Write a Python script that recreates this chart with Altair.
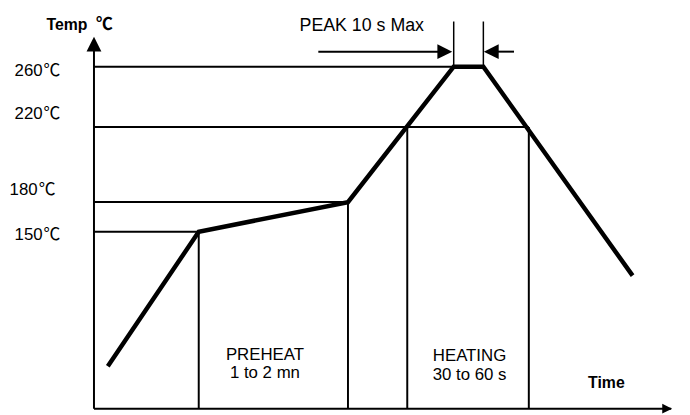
import altair as alt
import pandas as pd

# ---------------- data (schematic reflow profile) ----------------
# time axis is schematic (arbitrary units), temperatures in degrees C
profile_time = [14, 106, 257, 364, 394, 545]
profile_temp = [55, 150, 180, 260, 260, 119]

level_temp = [260, 220, 180, 150]
level_number = ["260", "220", "180", "150"]
unit = "℃"
level_end_time = [364, 440, 257, 106]

phase_time = [106, 257, 317, 440]
phase_top_temp = [150, 180, 220, 220]

peak_time = [364, 394]
peak_top_temp = 290
peak_arrow_temp = 270

phase_names = ["PREHEAT", "HEATING"]
phase_durations = ["1 to 2 mn", "30 to 60 s"]

# ---------------- layout ----------------
FONT = "Liberation Sans, Arial, Noto Sans CJK SC, DejaVu Sans"
CJK = "Noto Sans CJK SC"
FS = 17
BLACK = "#000000"
T_MIN, T_AXIS_TOP, T_MAX_X = 25, 278, 584

X_SCALE = alt.Scale(domain=[0, 595], range=[0, 595], nice=False, zero=False)
Y_SCALE = alt.Scale(domain=[25, 150, 180, 220, 260, 300],
                    range=[403, 224, 194, 118, 57, -4], nice=False, zero=False)


def X(f, **kw):
    return alt.X(f, type="quantitative", scale=X_SCALE, axis=None, **kw)


def Y(f, **kw):
    return alt.Y(f, type="quantitative", scale=Y_SCALE, axis=None, **kw)


def text_at(t, temp, txt, align="left", dx=0, dy=0, font=FONT, size=FS, weight="normal"):
    return alt.Chart(pd.DataFrame({"t": [t], "temp": [temp], "txt": [txt]})).mark_text(
        align=align, baseline="alphabetic", dx=dx, dy=dy, font=font, fontSize=size,
        fontWeight=weight, color=BLACK).encode(x=X("t"), y=Y("temp"), text="txt:N")


layers = []

# horizontal guide lines at temperature levels
lv = pd.DataFrame({"t0": [0] * 4, "t1": level_end_time, "temp": level_temp})
layers.append(alt.Chart(lv).mark_rule(color=BLACK, strokeWidth=2).encode(
    x=X("t0"), x2=alt.X2("t1"), y=Y("temp")))

# vertical phase lines
ph = pd.DataFrame({"t": phase_time, "lo": [T_MIN] * 4, "hi": phase_top_temp})
layers.append(alt.Chart(ph).mark_rule(color=BLACK, strokeWidth=2).encode(
    x=X("t"), y=Y("lo"), y2=alt.Y2("hi")))

# peak verticals
pk = pd.DataFrame({"t": peak_time, "lo": [260, 260], "hi": [peak_top_temp] * 2})
layers.append(alt.Chart(pk).mark_rule(color=BLACK, strokeWidth=1.5).encode(
    x=X("t"), y=Y("lo"), y2=alt.Y2("hi")))

# peak arrows (shafts)
pa = pd.DataFrame({"t0": [227, 402], "t1": [356, 425], "temp": [peak_arrow_temp] * 2})
layers.append(alt.Chart(pa).mark_rule(color=BLACK, strokeWidth=2).encode(
    x=X("t0"), x2=alt.X2("t1"), y=Y("temp")))
# arrow heads
heads = [
    (355, peak_arrow_temp, "M1,0L-1,-1L-1,1Z", 225),
    (402, peak_arrow_temp, "M-1,0L1,-1L1,1Z", 225),
    (0, 275, "M0,-1L1,1L-1,1Z", 225),
    (580, T_MIN, "M1,0L-1,-1L-1,1Z", 100),
]
for hx, hy, shp, sz in heads:
    layers.append(alt.Chart(pd.DataFrame({"t": [hx], "temp": [hy]})).mark_point(
        shape=shp, size=sz, filled=True, color=BLACK, opacity=1, strokeWidth=0).encode(
        x=X("t"), y=Y("temp")))

# axes drawn as rules
ax = pd.DataFrame({"t0": [0, 0], "t1": [0, T_MAX_X], "lo": [T_MIN, T_MIN], "hi": [T_AXIS_TOP, T_MIN]})
layers.append(alt.Chart(ax).mark_rule(color=BLACK, strokeWidth=2).encode(
    x=X("t0"), x2=alt.X2("t1"), y=Y("lo"), y2=alt.Y2("hi")))

# temperature profile
prof = pd.DataFrame({"t": profile_time, "temp": profile_temp, "i": range(len(profile_time))})
layers.append(alt.Chart(prof).mark_line(color=BLACK, strokeWidth=4.5, strokeJoin="miter").encode(
    x=X("t"), y=Y("temp"), order="i:O"))

# temperature labels (number + degree-Celsius sign)
label_dx = [0, 0, -5, 0]
label_dy = [9, -8, -7, 8]
for num, temp, dx, dy in zip(level_number, level_temp, label_dx, label_dy):
    layers.append(text_at(-52, temp, num, align="right", dx=dx, dy=dy))
    layers.append(text_at(-51, temp, unit, align="left", dx=dx, dy=dy, font=CJK))

# title, peak note, time label
layers.append(text_at(-48, 284.3, "Temp", weight="bold", size=16))
layers.append(text_at(2, 284.3, unit, weight="bold", font=CJK, size=17))
layers.append(text_at(208, 283.6, "PEAK 10 s Max", size=18))
layers.append(text_at(500, 39.7, "Time", weight="bold", size=16))

# phase labels
phase_center = [173, 380]
name_temp = [59.2, 58.5]
dur_temp = [46.6, 45.3]
pt = pd.DataFrame({
    "t": phase_center * 2,
    "temp": name_temp + dur_temp,
    "txt": phase_names + phase_durations,
})
layers.append(alt.Chart(pt).mark_text(
    align="center", baseline="alphabetic", font=FONT, fontSize=FS, color=BLACK).encode(
    x=X("t"), y=Y("temp"), text="txt:N"))

chart = alt.layer(*layers).properties(
    width=595, height=403,
    autosize=alt.AutoSizeParams(type="none"),
    padding={"left": 87, "top": 0, "right": 0, "bottom": 4},
    background="white",
).configure_view(stroke=None)

chart.save("out.html", embed_options={"renderer": "svg", "actions": False})
